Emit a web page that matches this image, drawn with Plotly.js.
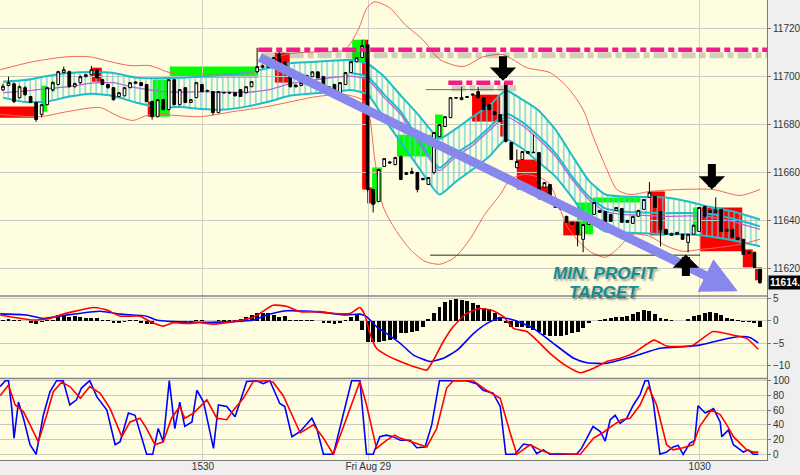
<!DOCTYPE html>
<html><head><meta charset="utf-8">
<script src="https://cdn.plot.ly/plotly-3.0.1.min.js"></script>
<style>html,body{margin:0;padding:0;background:#EFEFEF;}#chart{width:800px;height:475px;}</style>
</head><body><div id="chart"></div>
<script>
// ---------- candles (1-min bars, index 0..137) ----------
const openP = [11694.5,11696.3,11697,11691.2,11695.4,11691.7,11689.2,11684.2,11688.3,11694.6,
11696.7,11701.7,11702.1,11695.8,11697.5,11700,11700.8,11702.9,11698.75,11696.7,
11695.4,11691.7,11692,11695.4,11697.2,11697.5,11696.7,11689.6,11683.3,11690.4,
11686.25,11698.75,11688.3,11695.4,11689.2,11691.25,11696.7,11694,11693.75,11685,
11693.2,11693.4,11693.3,11694.6,11693.3,11695.8,11702.1,11704.5,11704,11706,
11709.2,11706,11702,11696.5,11696.3,11697,11700,11702,11700,11694.6,
11696.7,11692.5,11696.7,11701.7,11706.25,11708,11713.3,11652.9,11647.9,11662.5,
11664.4,11663.3,11666.7,11659.2,11659.6,11660,11657.5,11655,11660,11675,
11679.2,11682.9,11691,11690.4,11691.3,11692.3,11693.75,11691.25,11688.3,11685.4,
11684.2,11697.5,11672.5,11662,11665.4,11668,11668.5,11668.3,11653.75,11655,
11647.9,11646.7,11641.7,11639.2,11639.2,11632.1,11638.3,11642.5,11644.2,11643.75,
11642.5,11644.2,11645,11640,11638.75,11641.7,11644.6,11649.6,11650,11643.75,
11636.25,11633.75,11634.2,11634.2,11630.8,11634.2,11635.4,11645.8,11643.3,11643.3,
11644.6,11635.4,11636.25,11632.9,11632.1,11626.25,11626.7,11619.6];
const highP = [11697,11700,11697.5,11696.3,11696,11692,11689.5,11688.5,11695.6,11698,
11702.5,11704.2,11702.5,11697.5,11700.5,11701,11704.5,11703.3,11699,11697,
11695.6,11693.6,11695.6,11697.8,11698,11697.8,11697,11690,11690.6,11690.6,
11699,11699,11694.8,11695.6,11690.6,11697.8,11697,11694.6,11694,11694,
11693.6,11693.8,11693.5,11694.8,11696,11698.1,11712,11705,11706.3,11708.3,
11711,11706.3,11702.3,11696.8,11697.8,11700.8,11702.3,11702.3,11700.3,11696,
11697,11697.8,11702,11706.5,11708.2,11715.4,11715.4,11653.2,11661.5,11666,
11664.8,11666.5,11667,11660.2,11662,11660.3,11657.8,11658.1,11676.9,11680.2,
11683.5,11691.5,11691.5,11695.8,11691.9,11692.9,11695.8,11691.5,11688.5,11685.6,
11684.4,11698,11672.8,11669.6,11669,11669,11675.8,11668.5,11656,11655.2,
11648.1,11646.9,11641.9,11639.4,11639.4,11638.5,11641.9,11647.7,11644.4,11644,
11642.7,11645.6,11645.2,11640.2,11641.9,11644.4,11649,11656,11650.2,11644,
11636.5,11634.8,11635.2,11634.4,11634.4,11638.2,11645.6,11646,11644.4,11649.6,
11644.8,11636.5,11636.5,11633.1,11632.3,11627.3,11626.9,11619.8];
const lowP = [11694,11696,11689,11691,11692,11689,11681.2,11683,11688,11694,
11696.5,11701.5,11695.5,11695.5,11697,11699.8,11700.5,11699.2,11696.5,11695,
11690,11691.5,11691.8,11695.2,11697,11696,11689.4,11682.1,11683,11686,
11686,11688,11688,11689,11689,11691,11693.5,11693.5,11684,11684.8,
11693,11692.8,11691.8,11691.5,11693,11695.6,11701.5,11703.5,11703.8,11705.8,
11704.8,11702.8,11695.5,11695.5,11696,11696.8,11699.8,11699.3,11693.8,11694.4,
11693.5,11692.3,11696.5,11701.5,11706,11707.8,11652,11643.3,11647.5,11662.3,
11663.8,11663,11656.8,11659,11659.4,11651.7,11656.8,11654.8,11659.2,11674.8,
11679,11682.7,11690.8,11690.2,11691.1,11692.1,11691,11686,11686,11684,
11681,11672.5,11665.2,11661.8,11665.2,11667.8,11668.1,11651.8,11653.5,11649.8,
11645.2,11644.4,11639,11638.1,11629.2,11626.7,11638.1,11642.3,11643.1,11639,
11639.4,11644,11639,11639,11638.5,11641.5,11644.4,11649.4,11645.2,11629.2,
11634,11633.5,11634,11631.9,11626.7,11634,11635.2,11641.5,11643.1,11643.1,
11635.2,11635.2,11632.7,11631.9,11625.6,11626,11620.2,11613.5];
const closeP = [11696,11697.5,11689.6,11695.8,11692.5,11689.2,11682.1,11688.3,11695.4,11697.5,
11702.1,11702.9,11695.8,11697.1,11700,11700.8,11702.9,11699.6,11696.7,11695.4,
11690.4,11693.3,11695.4,11697.5,11697.8,11696.3,11689.6,11683.3,11690.4,11686.25,
11698.75,11688.3,11694.6,11689.2,11690.4,11697.5,11693.75,11694.2,11685,11693.75,
11693.4,11693.2,11692,11691.7,11695.8,11697.9,11704.2,11704,11706,11708,
11705,11703,11695.8,11695.8,11697.5,11700.5,11702,11699.5,11694,11695.8,
11693.75,11697.5,11701.7,11706.25,11707.9,11713,11652.9,11646.7,11661.25,11665.8,
11664,11666.25,11657.1,11660,11660.4,11652.9,11657,11657.9,11676.7,11680,
11683.3,11691.25,11691.3,11691.25,11691.7,11692.7,11691.25,11686.25,11686.25,11684.2,
11681.25,11673,11665.4,11664.6,11668.75,11668.75,11668.3,11652.1,11655.8,11650,
11645.4,11644.6,11639.2,11638.3,11634.2,11638.3,11641.7,11647.5,11643.3,11639.2,
11639.6,11645.4,11639.2,11639.2,11641.7,11644.2,11648.75,11651.7,11645.4,11636.25,
11634.2,11634.6,11635,11632.1,11634.2,11638,11645.4,11641.7,11644.2,11644.2,
11635.4,11636.25,11632.9,11632.1,11625.8,11627.1,11620.4,11614];

// ---------- channel (cyan hatched band + magenta mid) ----------
const chanX = [0,4,8,12,16,20,24,28,32,36,40,44,48,52,56,60,63,66,69,72,75,79,82,85,88,91,94,97,100,103,106,109,112,116,120,124,128,132,137];
const chanUpper = [11697.9,11698.6,11700.3,11701.5,11701.9,11701.5,11699.6,11699.3,11699.5,11700.1,11700.7,11701.6,11703.6,11705.6,11706.1,11706.7,11707,11705.4,11700,11692.1,11684.6,11674.2,11678.3,11683.3,11687.9,11694.2,11690.4,11685.8,11677.9,11667.1,11656.7,11650.8,11650,11649.8,11649.6,11647.9,11645.6,11643.8,11640.4];
const chanLower = [11691.25,11689.4,11689.6,11691.7,11692.9,11691.9,11689.25,11687.3,11687.3,11686.5,11686.25,11687.5,11689.5,11692.1,11693,11693.6,11694.4,11692.6,11682.5,11672.5,11662.9,11650.8,11656.25,11661.25,11666.7,11673.75,11670,11664.2,11658.3,11649.6,11640,11635.4,11635,11634.6,11634.2,11634.2,11633.3,11631.7,11629.2];
const chanMid = [11693.3,11694,11695,11695.8,11697.3,11697.5,11695.4,11694,11693.5,11693.75,11693.5,11693.5,11694.5,11697.1,11698.5,11699.75,11700.2,11698.75,11691.25,11684.2,11673.3,11660.8,11666.7,11671.25,11677.5,11683.3,11679.6,11673.75,11666.7,11657.1,11648.75,11643.75,11642.5,11642.1,11641.7,11641.9,11641.5,11639.6,11636.25];
const midCyanX = [63,66,69,72,75,79,82,85,88,91,94,97,100,103,106,109,112,116,120,124,128,132,137];
const midCyanY = [11701.5,11700,11692.5,11685.4,11674.6,11662,11668,11672.5,11678.8,11684.6,11681,11675,11668,11658.3,11650,11645,11643.75,11643.3,11643,11643.1,11642.7,11640.8,11637.5];

// ---------- Bollinger bands ----------
const bbUpX = [-0.5,5.4,11.6,15.7,19.4,23,26.6,30.2,35.7,41.1,45.6,47.4,51.9,57.4,61.9,64.3,65.9,67.3,70,72.8,76,79.1,83.3,86.9,90.5,94.8,99,102.1,105,106.8,109.3,111.1,113.5,117.1,122.5,128.5,133.4,137];
const bbUpY = [11702.9,11706.25,11708.3,11708.3,11706.25,11704.6,11704.6,11701.7,11701.25,11701.25,11702.1,11706.25,11709.6,11710.4,11711.25,11719.6,11728.75,11731.25,11728.75,11721.7,11715.4,11707.1,11704.2,11708.3,11709.2,11703.75,11701.7,11695.8,11686.25,11675,11661.25,11652.9,11650.8,11652.1,11652.9,11652.9,11650.4,11652.9];
const bbLoX = [-0.5,6.7,11.6,17.6,20.6,23.5,26.6,35.7,41.6,47.8,56.8,61.9,65,66.1,67.3,68.8,71,73.7,76.4,79.1,81.8,84.5,87.2,90,91.8,94.5,97.2,99,102.1,103.9,106.2,109,111.1,114,117.1,120.2,123.1,126.2,129.8,133.4,137];
const bbLoY = [11684.2,11683.3,11685.4,11687.1,11683.75,11681.7,11684.2,11683.3,11685.4,11687.5,11691.7,11692.5,11690.4,11686.25,11665.4,11645.8,11636.25,11627.9,11622.9,11621.7,11624.6,11632.1,11642.5,11650.8,11657.1,11659.2,11657.9,11655,11637.5,11632.1,11627.1,11624.6,11627.9,11634.2,11633.3,11629.2,11627.1,11627.9,11628.75,11630,11632.1];

// ---------- highlight blocks ----------
const redX0 = [-0.6,16.1,26.2,49.2,65.0,65.9,84.9,90.0,93.0,96.8,101.4,117.1,126.2,133.9,136.1];
const redX1 = [6.2,17.9,27.5,51.9,65.9,67.5,90.0,90.7,96.8,99.0,104.8,119.8,133.8,135.7,137.4];
const redTop = [11687.5,11703.75,11689.6,11710,11715.4,11653.75,11692.5,11682.1,11665.4,11654.2,11639.6,11652.1,11645.4,11627.9,11620.4];
const redBot = [11682.9,11697.9,11683.3,11697.5,11652.9,11647.1,11681.25,11675,11652.9,11648.75,11633.75,11633.75,11627.1,11620.4,11615];
const grnX0 = [6.9,8.7,27.1,30.2,63.2,66.8,71.3,78.2,103.9,106.8,124.9];
const grnX1 = [8.0,9.4,30.2,46.2,65.5,68.6,77.6,79.6,106.8,115.3,125.8];
const grnTop = [11696.25,11697.9,11698.75,11704.2,11715.4,11662.1,11675.8,11684.2,11647.5,11649.6,11645.4];
const grnBot = [11685.4,11693.75,11683.3,11699.6,11706.25,11647.9,11666.7,11673.75,11634.2,11647.5,11635.4];

// ---------- drawn levels / arrows / labels ----------
const dashLevels = [11711.25, 11697.5];
const dashX0 = [46.2, 80.6];
const dashX1 = [138.3, 92.3];
const thinLevels = [11625.5, 11694.6];
const thinX0 = [77.3, 76.5];
const thinX1 = [126.2, 90.8];
const bigArrowX = [46.2, 133.0];   // tail, tip
const bigArrowY = [11708.3, 11610.4];
const blackArrowX = [90.5, 128.3, 123.6];
const blackArrowY = [11698.3, 11652.9, 11625.8];
const blackArrowTail = [-26, -27, 23];
const labelText = ['MIN. PROFIT', 'TARGET'];
const labelX = [109.0, 108.8];
const labelY = [11617.8, 11609.8];
const lastLabel = '11614.0';

// ---------- MACD ----------
const macdHist = [0.2,0.3,0.05,0.05,0,-0.6,-0.7,-0.3,0.1,0.1,
1.2,1.3,0.9,1.0,0.8,0.6,0.7,0.5,0.1,0.1,
-0.4,-0.4,-0.3,0.05,0.05,-0.6,-0.8,-0.8,-0.1,-0.1,
-0.3,-0.4,-0.4,-0.3,-0.2,0.05,0.05,0,0,0.05,
0.05,0.1,0.1,0.4,0.8,1.2,1.6,1.7,1.7,1.3,
0.8,1.0,0.1,0.1,0.05,0.05,0.05,0,-0.5,-0.6,
-0.7,-0.4,0.1,0.8,1.2,-2.0,-4.6,-4.6,-4.6,-4.5,
-4.2,-4.0,-2.8,-2.8,-2.4,-2.2,-1.5,0.3,1.6,3.0,
4.2,4.6,4.7,4.6,4.4,3.9,3.4,2.9,2.5,1.6,
0.9,-0.6,-1.3,-1.4,-1.5,-1.7,-2.0,-2.6,-3.2,-3.3,
-3.3,-3.3,-3.2,-2.8,-2.4,-1.7,-0.6,-0.05,0.05,0.4,
0.7,0.8,0.8,1.0,1.5,2.0,2.3,2.2,1.5,0.7,
0.3,0.05,0,0,0.3,1.0,1.3,1.6,1.9,1.6,
1.2,0.7,0.3,0.1,-0.2,-0.3,-0.6,-1.4];
const macdRedX = [-0.5,5.5,8.5,10.3,12.7,16.4,18.8,21.2,24.8,26.6,29.0,30.8,33.2,35.7,38.1,41.7,45.3,48.9,51.3,53.8,57.4,59.8,62.8,64.6,65.5,66.4,67.6,69.4,71.9,74.3,76.7,77.9,79.7,81.5,83.9,86.3,88.7,90.6,92.4,94.8,96.6,99.0,102.1,104.5,106.9,109.3,111.7,114.1,117.8,120.1,122.5,124.9,128.5,132.2,134.6,136.7];
const macdRedY = [1.25,0.15,0.5,1.25,2.0,2.9,2.35,1.0,1.0,-0.2,-1.2,-0.45,-0.6,-0.45,-0.75,-0.2,0.75,3.4,3.2,2.0,2.0,1.6,1.6,2.9,1.25,-2.8,-6.1,-7.6,-9.0,-10.1,-10.9,-8.7,-4.6,-1.3,1.6,2.7,2.2,0.9,-1.7,-2.4,-4.3,-7.2,-10.1,-11.5,-10.5,-9.0,-8.3,-7.2,-4.3,-5.6,-5.7,-5.4,-2.4,-3.2,-3.9,-6.3];
const macdBlueX = [-0.5,4.3,7.3,11.5,17.6,21.2,26.0,27.8,30.8,35.7,41.7,45.3,47.7,51.3,57.4,62.2,64.6,65.8,67.6,69.4,71.9,74.3,77.3,79.7,82.2,85.2,87.6,90.0,92.4,96.0,99.6,103.3,105.7,109.3,114.1,118.9,123.7,126.1,129.8,133.4,135.2,136.7];
const macdBlueY = [1.5,1.25,0.5,1.25,2.1,1.45,1.0,0.15,-0.2,-0.35,-0.2,0.15,1.25,2.2,1.9,1.25,1.45,0.9,-1.3,-2.8,-5.0,-7.6,-9.0,-8.3,-6.5,-2.8,-0.6,0.7,0.15,-1.7,-5.0,-8.3,-9.3,-9.4,-7.9,-6.1,-5.7,-5.4,-4.3,-3.5,-3.7,-4.9];

// ---------- Stochastics ----------
const stochBlueX = [-0.5,0.4,1.0,1.6,2.0,2.8,3.7,4.9,6.0,7.3,8.5,9.7,10.9,12.1,13.3,14.2,15.7,17.0,18.8,20.3,21.2,22.7,23.9,26.0,27.1,28.1,29.0,30.1,31.1,32.0,32.9,34.2,35.1,36.3,38.1,39.0,40.5,42.0,42.9,44.1,45.9,47.1,48.3,50.1,51.0,52.3,53.8,55.9,56.8,58.0,59.8,61.0,63.1,64.6,65.8,67.0,68.2,69.4,70.6,71.9,73.7,74.9,76.4,77.6,79.0,83.9,85.7,86.9,88.7,90.0,91.0,92.7,94.2,95.7,96.6,97.8,99.0,103.8,104.7,106.8,108.1,109.0,109.9,110.8,111.7,112.9,114.1,115.3,116.2,116.8,117.7,118.9,120.1,121.3,122.2,123.1,124.3,125.2,125.8,127.1,128.6,129.8,130.1,131.3,132.2,134.0,134.9,135.8,136.7];
const stochBlueY = [92,100,100,62,22,71,49,13,0,53,85,100,100,67,74,90,100,78,60,13,17,56,53,0,0,35,17,100,35,71,38,44,87,71,8,67,65,51,71,99,100,96,100,69,65,24,31,49,35,0,0,35,100,100,0,0,24,26,24,19,19,9,10,40,100,100,96,87,83,65,0,0,14,12,1,6,0,0,8,38,31,18,47,53,42,49,67,81,100,100,71,0,3,10,12,0,15,19,66,56,62,44,24,33,13,3,6,0,0];
const stochRedX = [-0.5,1.0,2.2,3.7,4.9,6.4,7.9,9.1,10.6,12.1,14.0,15.7,17.6,19.4,21.5,23.0,24.8,26.0,27.5,29.0,30.5,32.0,32.9,34.5,36.9,38.7,40.5,41.7,43.5,45.3,47.7,48.9,50.7,52.5,53.8,56.2,58.0,59.8,62.2,64.6,65.8,67.6,69.4,70.9,71.9,74.9,76.7,78.5,80.3,81.5,85.1,87.5,90.0,91.8,93.0,95.4,97.2,99.0,102.1,104.5,106.9,108.7,110.5,112.0,113.5,115.3,116.8,118.3,120.1,121.3,123.1,124.9,126.1,128.2,129.8,131.0,132.2,133.4,134.6,135.8,136.7];
const stochRedY = [80,94,67,58,40,17,53,85,98,92,76,92,83,62,24,44,49,35,13,17,49,65,49,56,74,49,47,60,76,99,100,98,80,49,29,40,22,0,49,99,67,8,19,26,22,15,10,35,90,100,100,87,76,29,0,13,6,1,0,0,22,30,40,47,49,67,92,67,13,6,9,13,38,60,54,40,24,15,6,3,3];

// ---------- axes ----------
const xTickVals = [36.2, 66.1, 126.1];
const xTickText = ['1530', 'Fri Aug 29', '1030'];
const priceTicks = [11620,11640,11660,11680,11700,11720];
const macdTicks = [-10,-5,0,5];
const stochTicks = [0,20,40,60,80,100];

const idx = openP.map((_, i) => i);
const FONT = 'Liberation Sans, Arial, sans-serif';
const priceRange = [11608.45, 11732];
const CYAN = '#1DBDC9';

const data = [];
data.push({type:'scatter', mode:'lines', x:chanX, y:chanLower, xaxis:'x', yaxis:'y',
  line:{color:CYAN, width:2, shape:'spline', smoothing:0.5}, hoverinfo:'skip'});
data.push({type:'scatter', mode:'lines', x:chanX, y:chanUpper, xaxis:'x', yaxis:'y',
  fill:'tonexty', fillcolor:'rgba(0,0,0,0)',
  fillpattern:{shape:'|', size:5.5, solidity:0.22, fgcolor:'#62CCD5', bgcolor:'rgba(0,0,0,0)'},
  line:{color:CYAN, width:2, shape:'spline', smoothing:0.5}, hoverinfo:'skip'});
data.push({type:'scatter', mode:'lines', x:midCyanX, y:midCyanY, xaxis:'x', yaxis:'y',
  line:{color:CYAN, width:2, shape:'spline', smoothing:0.5}, hoverinfo:'skip'});
data.push({type:'scatter', mode:'lines', x:chanX, y:chanMid, xaxis:'x', yaxis:'y',
  line:{color:'#B565D9', width:1.3, shape:'spline', smoothing:0.5}, hoverinfo:'skip'});
data.push({type:'scatter', mode:'lines', x:bbUpX, y:bbUpY, xaxis:'x', yaxis:'y',
  line:{color:'#F0675A', width:1, shape:'spline', smoothing:0.7}, hoverinfo:'skip'});
data.push({type:'scatter', mode:'lines', x:bbLoX, y:bbLoY, xaxis:'x', yaxis:'y',
  line:{color:'#F0675A', width:1, shape:'spline', smoothing:0.7}, hoverinfo:'skip'});
thinLevels.forEach((lv, k) => data.push({type:'scatter', mode:'lines', x:[thinX0[k], thinX1[k]], y:[lv, lv],
  xaxis:'x', yaxis:'y', line:{color: k===0 ? '#2a2a2a' : '#707070', width:1}, hoverinfo:'skip'}));
data.push({type:'candlestick', x:idx, open:openP, high:highP, low:lowP, close:closeP, xaxis:'x', yaxis:'y4',
  increasing:{line:{color:'#000', width:1}, fillcolor:'#FFFFFF'},
  decreasing:{line:{color:'#000', width:1}, fillcolor:'#000000'},
  whiskerwidth:0, hoverinfo:'skip'});
dashLevels.forEach((lv, k) => {
  const sh = lv - 2.3;
  data.push({type:'scatter', mode:'lines', x:[dashX0[k]+0.6, dashX1[k]+0.6], y:[sh, sh], xaxis:'x', yaxis:'y4',
    line:{color:'rgba(90,90,90,0.28)', width:6, dash:'14px,4px,6px,4px'}, hoverinfo:'skip'});
  data.push({type:'scatter', mode:'lines', x:[dashX0[k], dashX1[k]], y:[lv, lv], xaxis:'x', yaxis:'y4',
    line:{color:'#F01C8C', width:4.5, dash:'14px,4px,6px,4px'}, hoverinfo:'skip'});
});
data.push({type:'bar', x:idx, y:macdHist, xaxis:'x', yaxis:'y2', marker:{color:'#000'}, width:0.7, hoverinfo:'skip'});
data.push({type:'scatter', mode:'lines', x:macdBlueX, y:macdBlueY, xaxis:'x', yaxis:'y2',
  line:{color:'#0000FF', width:1.6, shape:'spline', smoothing:0.5}, hoverinfo:'skip'});
data.push({type:'scatter', mode:'lines', x:macdRedX, y:macdRedY, xaxis:'x', yaxis:'y2',
  line:{color:'#FF0000', width:1.6, shape:'spline', smoothing:0.5}, hoverinfo:'skip'});
data.push({type:'scatter', mode:'lines', x:stochBlueX, y:stochBlueY, xaxis:'x', yaxis:'y3',
  line:{color:'#0000FF', width:1.6}, hoverinfo:'skip'});
data.push({type:'scatter', mode:'lines', x:stochRedX, y:stochRedY, xaxis:'x', yaxis:'y3',
  line:{color:'#FF0000', width:1.6}, hoverinfo:'skip'});

const shapes = [];
redX0.forEach((x0, k) => shapes.push({type:'rect', xref:'x', yref:'y', x0:x0, x1:redX1[k], y0:redBot[k], y1:redTop[k],
  fillcolor:'#FF0000', line:{width:0}, layer:'below'}));
grnX0.forEach((x0, k) => shapes.push({type:'rect', xref:'x', yref:'y', x0:x0, x1:grnX1[k], y0:grnBot[k], y1:grnTop[k],
  fillcolor:'#00FF00', line:{width:0}, layer:'below'}));
const D1 = 0.3565, D2 = 0.1772;
[D1, D2].forEach(d => shapes.push({type:'line', xref:'paper', yref:'paper', x0:0, x1:1, y0:d, y1:d,
  line:{color:'#858585', width:1.5}, layer:'above'}));

const annotations = [];
annotations.push({x:bigArrowX[1], y:bigArrowY[1], ax:bigArrowX[0], ay:bigArrowY[0], xref:'x', yref:'y', axref:'x', ayref:'y',
  showarrow:true, arrowhead:2, arrowsize:0.8, arrowwidth:9, arrowcolor:'#8787EE', text:''});
blackArrowX.forEach((x, k) => annotations.push({x:x, y:blackArrowY[k], xref:'x', yref:'y', ax:0, ay:blackArrowTail[k],
  showarrow:true, arrowhead:1, arrowsize:0.55, arrowwidth:8, arrowcolor:'#000', text:''}));
labelText.forEach((t, k) => annotations.push({x:labelX[k], y:labelY[k], xref:'x', yref:'y', showarrow:false,
  text:'<b><i>' + t + '</i></b>', font:{family:FONT, size:17, color:'#168C8E', shadow:'2px 2px 2px rgba(0,0,0,0.35)'}}));
annotations.push({xref:'paper', x:1, xanchor:'left', yref:'y', y:closeP[closeP.length-1], showarrow:false,
  text:'<b>' + lastLabel + '</b>', bgcolor:'#000', font:{family:FONT, size:10, color:'#FFF'}, borderpad:1, xshift:1});

const yCommon = {side:'right', anchor:'x', ticks:'outside', ticklen:3, tickcolor:'#777', showgrid:true,
  gridcolor:'#CACAC2', gridwidth:1, zeroline:false, showline:true, linecolor:'#7a7a7a', linewidth:1,
  tickformat:'d', tickfont:{family:FONT, size:10, color:'#333'}, fixedrange:true};

const layout = {
  width:800, height:475, margin:{l:0, r:33, t:0, b:15},
  paper_bgcolor:'#EFEFEF', plot_bgcolor:'#FFFDE0', showlegend:false, bargap:0,
  xaxis:{range:[-0.54, 138.28], anchor:'y3', tickvals:xTickVals, ticktext:xTickText, showgrid:true,
    gridcolor:'#D2D2CA', zeroline:false, ticks:'', ticklabelstandoff:-3,
    tickfont:{family:FONT, size:10, color:'#333'}, showline:true, linecolor:'#7a7a7a',
    rangeslider:{visible:false}, fixedrange:true},
  yaxis:Object.assign({}, yCommon, {domain:[D1, 1], range:priceRange, tickvals:priceTicks}),
  yaxis2:Object.assign({}, yCommon, {domain:[D2, D1], range:[-12.76, 5.45], tickvals:macdTicks}),
  yaxis3:Object.assign({}, yCommon, {domain:[0, D2], range:[-7.74, 102.99], tickvals:stochTicks}),
  yaxis4:{overlaying:'y', range:priceRange, visible:false, fixedrange:true},
  shapes:shapes, annotations:annotations
};

Plotly.newPlot('chart', data, layout, {staticPlot:true, displayModeBar:false});
</script></body></html>
